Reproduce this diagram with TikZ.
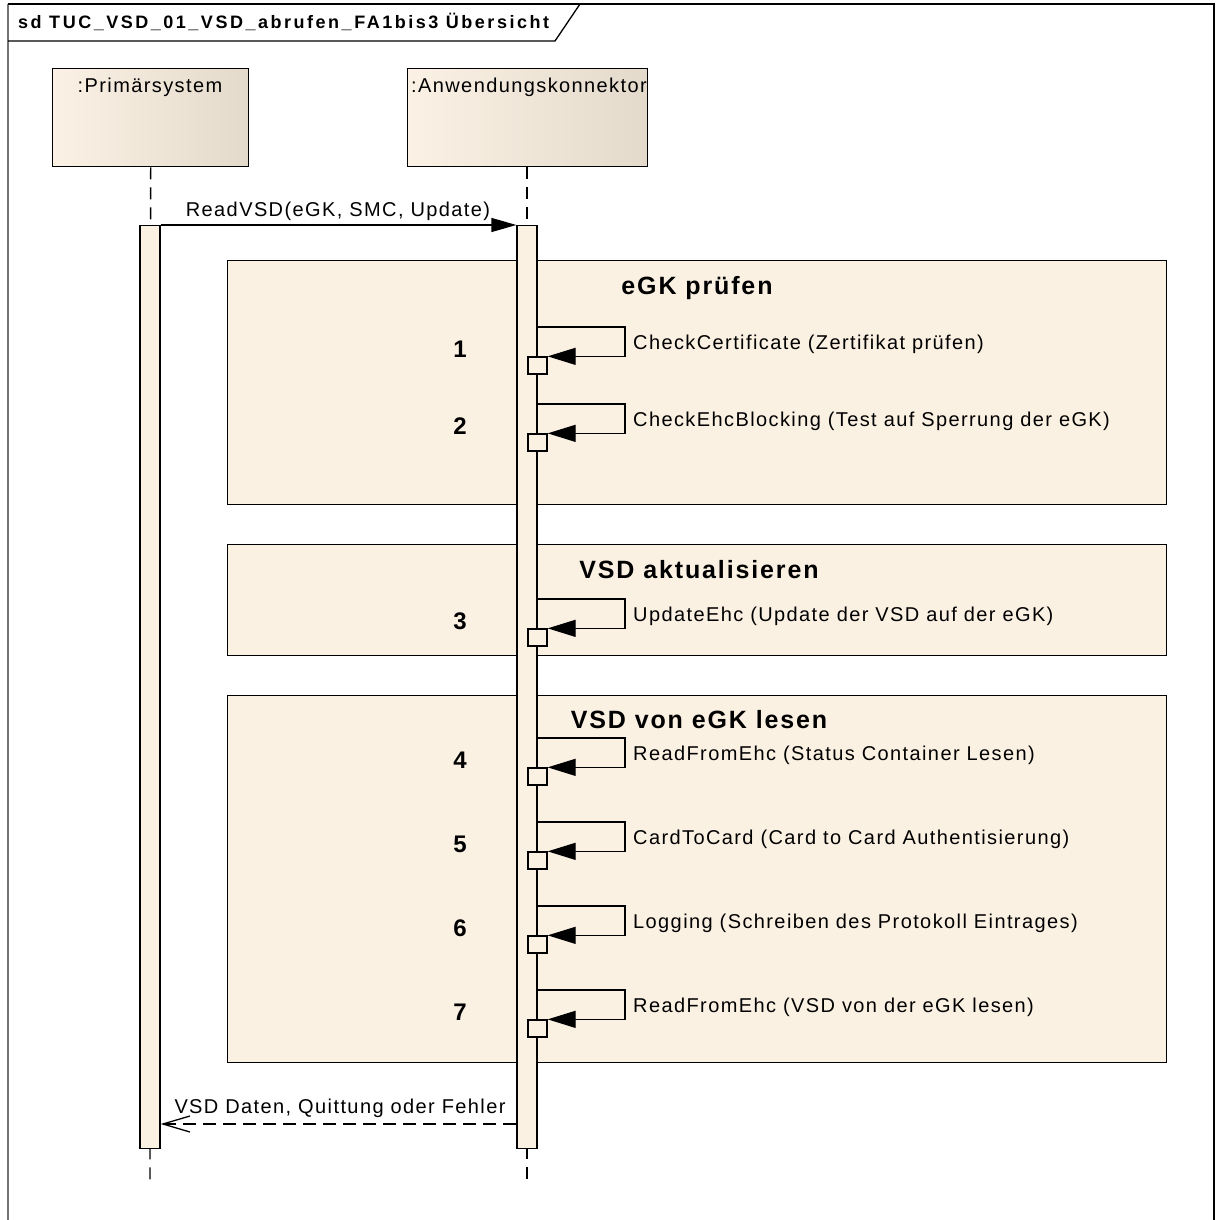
\documentclass[tikz,border=0pt]{standalone}
\usepackage{fontspec}
\setmainfont{Liberation Sans}
\newfontfamily\umlfont[LetterSpace=7]{Liberation Sans}
\newfontfamily\umlbold[LetterSpace=7.5]{Liberation Sans}
\newfontfamily\umltitle[LetterSpace=14]{Liberation Sans}
\usetikzlibrary{arrows.meta,calc}

\definecolor{umlfill}{RGB}{251,241,227}
\definecolor{headleft}{RGB}{251,242,229}
\definecolor{headright}{RGB}{227,218,204}

\begin{document}
\begin{tikzpicture}[x=1pt,y=-1pt,
  umlline/.style={line width=1.3pt, draw=black},
  lifehead/.style={umlline, rectangle, left color=headleft, right color=headright, inner sep=0pt, anchor=north west},
  lifeline/.style={line width=1.3pt, dash pattern=on 12pt off 8pt},
  actbar/.style={umlline, fill=umlfill, rectangle, inner sep=0pt, minimum width=20pt, minimum height=923pt, anchor=north},
  fragbox/.style={umlline, fill=umlfill, rectangle, inner sep=0pt, anchor=north west, minimum width=939pt},
  execbox/.style={umlline, fill=umlfill, rectangle, inner sep=0pt, minimum width=19pt, minimum height=17pt},
  msgtext/.style={font=\umlfont\fontsize{20}{23}\selectfont, inner sep=0pt},
  headtext/.style={font=\umlbold\bfseries\fontsize{25}{28}\selectfont, inner sep=0pt},
  numtext/.style={font=\bfseries\fontsize{24}{28}\selectfont, inner sep=0pt},
  titletext/.style={font=\umltitle\bfseries\fontsize{18}{22}\selectfont, inner sep=0pt},
  callmsg/.style={line width=1.3pt, -{Triangle[length=25pt,width=14pt]}},
  selfmsg/.style={line width=1.3pt, -{Triangle[length=28pt,width=17pt]}},
  retmsg/.style={line width=1.3pt, dash pattern=on 13pt off 7pt, -{Straight Barb[length=27pt,width=16pt]}},
]
\useasboundingbox (0,0) rectangle (1216,1220);
\fill[white] (0,0) rectangle (1216,1220);

% diagram frame and name tab
\draw[line width=1.6pt, black!55] (8,1222) -- (8,4);
\draw[umlline] (8,4) -- (1214,4) -- (1214,1222);
\draw[umlline] (8,41) -- (555,41) -- (580,4);
\node[titletext, anchor=base west] (title) at (18,29) {sd TUC\_VSD\_01\_VSD\_abrufen\_FA1bis3 Übersicht};

% lifeline heads
\node[lifehead, minimum width=196pt, minimum height=98pt] (ps) at (52,68) {};
\node[msgtext, anchor=base] (psl) at (150,93) {:Primärsystem};
\node[lifehead, minimum width=240pt, minimum height=98pt] (ak) at (407,68) {};
\node[msgtext, anchor=base west] (akl) at (411,93) {:Anwendungskonnektor};

% lifelines
\coordinate (psend) at (150,1185);
\coordinate (akend) at (527,1185);
\draw[lifeline] (ps.south) -- (psend);
\draw[lifeline] (ps.south -| akend) -- (akend);

% combined fragments
\node[fragbox, minimum height=244pt] (f1) at (227,260) {};
\node[headtext, anchor=base] (h1) at (697,294) {eGK prüfen};
\node[fragbox, minimum height=111pt] (f2) at (227,544) {};
\node[headtext, anchor=base] (h2) at (699,578) {VSD aktualisieren};
\node[fragbox, minimum height=367pt] (f3) at (227,695) {};
\node[headtext, anchor=base] (h3) at (699,728) {VSD von eGK lesen};

% activation bars
\node[actbar] (bar1) at (150,225) {};
\node[actbar] (bar2) at (527,225) {};

% call from the primary system
\draw[callmsg] (bar1.north east) -- (bar2.north west);
\node[msgtext, anchor=base] (calll) at (338,216) {ReadVSD(eGK, SMC, Update)};

% self calls of the connector
\foreach \i/\t/\txt in {
  1/327/{CheckCertificate (Zertifikat prüfen)},
  2/404/{CheckEhcBlocking (Test auf Sperrung der eGK)},
  3/599/{UpdateEhc (Update der VSD auf der eGK)},
  4/738/{ReadFromEhc (Status Container Lesen)},
  5/822/{CardToCard (Card to Card Authentisierung)},
  6/906/{Logging (Schreiben des Protokoll Eintrages)},
  7/990/{ReadFromEhc (VSD von der eGK lesen)}} {
  \coordinate (c\i) at (537,\t);
  \node[execbox] (x\i) at (537.5,\t+38.5) {};
  \draw[selfmsg] (c\i) -- ++(88,0) |- (x\i.north east);
  \node[msgtext, anchor=base west] (l\i) at (633,\t+22) {\txt};
  \node[numtext, anchor=base] (n\i) at (460,\t+30) {\i};
}

% reply
\coordinate (ry) at (0,1124);
\draw[retmsg] (bar2.west |- ry) -- (bar1.east |- ry);
\node[msgtext, anchor=base] (retl) at (340,1113) {VSD Daten, Quittung oder Fehler};
\end{tikzpicture}
\end{document}
